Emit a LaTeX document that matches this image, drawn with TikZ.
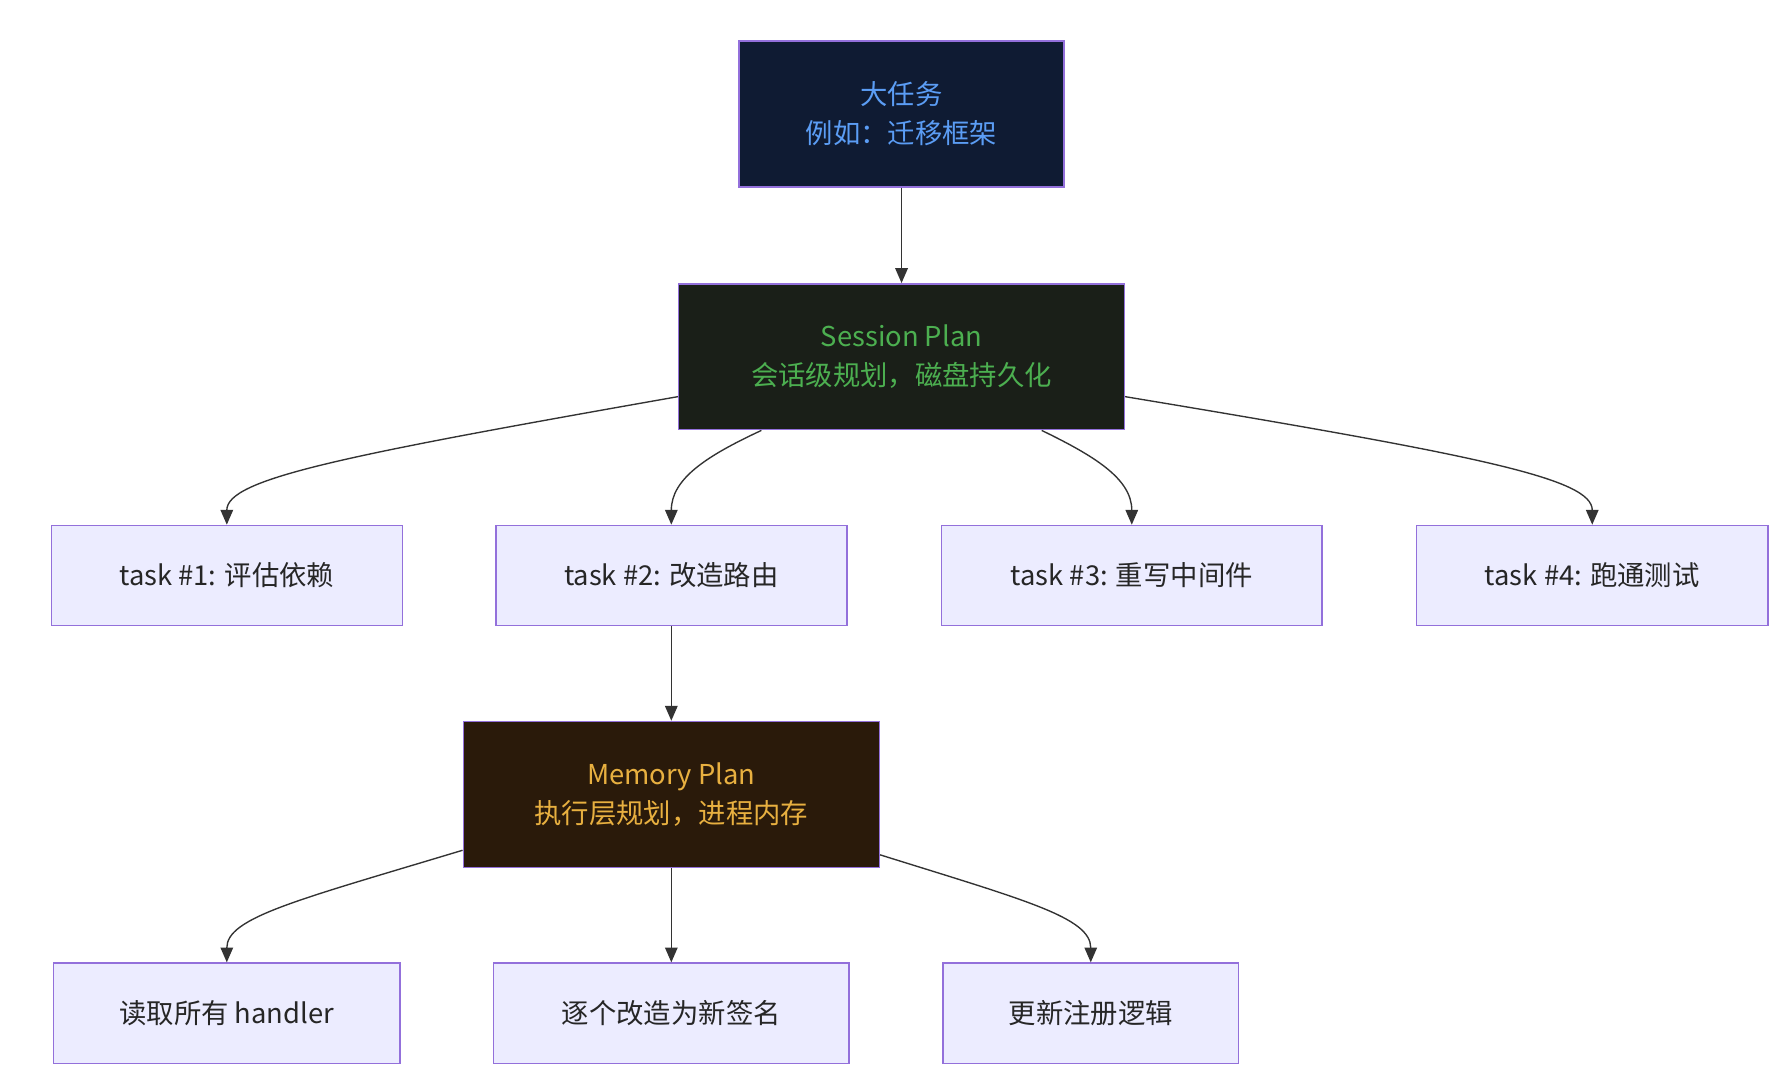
\documentclass[tikz,border=0pt]{standalone}
\usepackage{fontspec}
\setmainfont{Noto Sans CJK SC}
\usetikzlibrary{arrows.meta}
\definecolor{bd}{HTML}{9370DB}
\definecolor{lf}{HTML}{ECECFF}
\definecolor{tf}{HTML}{0F1B33}
\definecolor{tt}{HTML}{5B9DF5}
\definecolor{sf}{HTML}{1A1F18}
\definecolor{st}{HTML}{4CAF50}
\definecolor{mf}{HTML}{2A1A0A}
\definecolor{mt}{HTML}{E8B040}
\tikzset{
 x=1pt,y=-1pt,
 box/.style={draw=bd,line width=1.3pt,minimum height=88pt,font=\fontsize{24}{34}\selectfont,text=black!85,align=center,inner sep=0pt},
 light/.style={box,fill=lf},
 big/.style={box,minimum height=128pt},
 e/.style={draw=black!80,line width=1.2pt,-{Triangle[length=13pt,width=11pt]}},
}
\begin{document}
\begin{tikzpicture}
\useasboundingbox[fill=white] (0,0) rectangle (1567,953);
\node[big,fill=tf,text=tt,minimum width=285pt] (T) at (791,100) {大任务\\例如：迁移框架};
\node[big,fill=sf,text=st,minimum width=391pt] (S) at (791,313) {Session Plan\\会话级规划，磁盘持久化};
\node[light,minimum width=308pt] (t1) at (199,505) {task \#1: 评估依赖};
\node[light,minimum width=308pt] (t2) at (589,505) {task \#2: 改造路由};
\node[light,minimum width=334pt] (t3) at (993,505) {task \#3: 重写中间件};
\node[light,minimum width=308pt] (t4) at (1397,505) {task \#4: 跑通测试};
\node[big,fill=mf,text=mt,minimum width=365pt] (M) at (589,697) {Memory Plan\\执行层规划，进程内存};
\node[light,minimum width=304pt] (m1) at (199,889) {读取所有 handler};
\node[light,minimum width=312pt] (m2) at (589,889) {逐个改造为新签名};
\node[light,minimum width=259pt] (m3) at (957,889) {更新注册逻辑};
\draw[e] (T) -- (S);
\draw[e] ([yshift=-35pt]S.west) .. controls (300,400) and (199,420) .. (t1.north);
\draw[e] ([xshift=-123pt]S.south) .. controls (620,400) and (589,420) .. (t2.north);
\draw[e] ([xshift=123pt]S.south) .. controls (960,400) and (993,420) .. (t3.north);
\draw[e] ([yshift=-35pt]S.east) .. controls (1300,400) and (1397,420) .. (t4.north);
\draw[e] (t2) -- (M);
\draw[e] ([yshift=-49pt]M.west) .. controls (260,790) and (199,805) .. (m1.north);
\draw[e] (M) -- (m2);
\draw[e] ([yshift=-53pt]M.east) .. controls (900,790) and (957,805) .. (m3.north);
\end{tikzpicture}
\end{document}
